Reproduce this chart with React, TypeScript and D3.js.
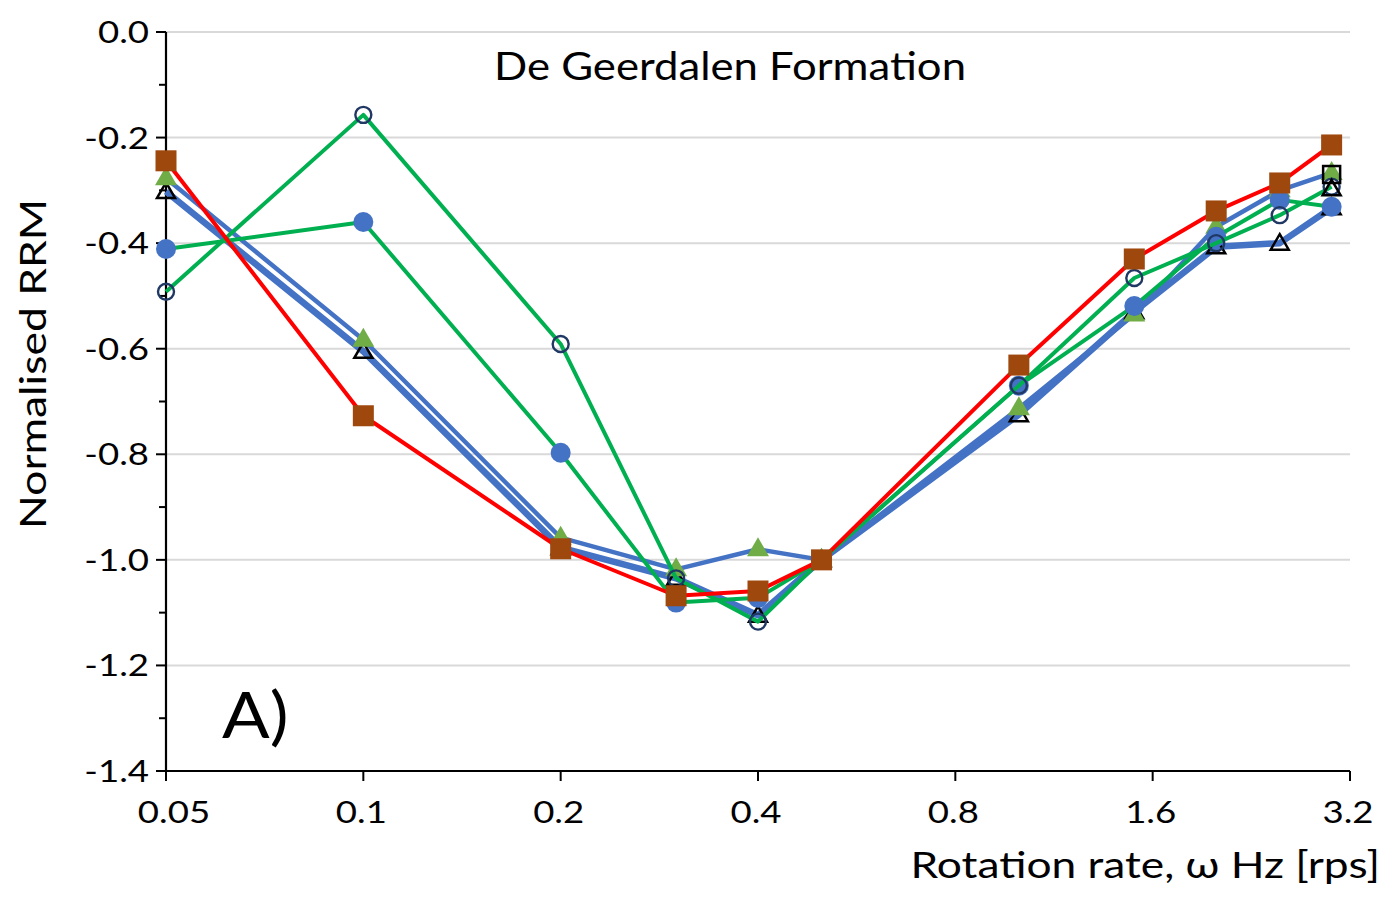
import React from "react";
import * as d3 from "d3";

const W = 1387;
const H = 900;

const rates = [0.05, 0.1, 0.2, 0.3, 0.4, 0.5, 1.0, 1.5, 2.0, 2.5, 3.0];
const xTickValues = [0.05, 0.1, 0.2, 0.4, 0.8, 1.6, 3.2];
const xTickLabels = ["0.05", "0.1", "0.2", "0.4", "0.8", "1.6", "3.2"];
const yTickValues = [0.0, -0.2, -0.4, -0.6, -0.8, -1.0, -1.2, -1.4];
const yMinorValues = [-0.1, -0.3, -0.5, -0.7, -0.9, -1.1, -1.3];

const openTriangleValues = [-0.302, -0.605, -0.977, -1.035, -1.105, -1.0, -0.725, -0.53, -0.407, -0.40, -0.333];
const greenTriangleValues = [-0.277, -0.583, -0.958, -1.018, -0.98, -1.0, -0.713, -0.535, -0.369, -0.30, -0.267];
const filledCircleValues = [-0.411, -0.36, -0.797, -1.081, -1.072, -1.0, -0.67, -0.519, -0.388, -0.318, -0.331];
const openCircleValues = [-0.492, -0.157, -0.591, -1.035, -1.117, -1.0, -0.67, -0.466, -0.40, -0.347, -0.293];
const squareValues = [-0.244, -0.727, -0.979, -1.068, -1.059, -1.0, -0.631, -0.43, -0.339, -0.286, -0.214];

const extraRates = [3.0, 3.0];
const extraValues = [-0.27, -0.297];
const extraMarkers = ["openSquare", "openTriangle"];

type Series = {
  values: number[];
  line: string;
  width: number;
  marker: string;
};

const seriesList: Series[] = [
  { values: openTriangleValues, line: "#4472C4", width: 6.5, marker: "openTriangle" },
  { values: greenTriangleValues, line: "#4472C4", width: 4.5, marker: "greenTriangle" },
  { values: filledCircleValues, line: "#00B050", width: 4, marker: "filledCircle" },
  { values: openCircleValues, line: "#00B050", width: 4, marker: "openCircle" },
  { values: squareValues, line: "#FF0000", width: 4, marker: "brownSquare" },
];

const FONT = "Lato, 'Open Sans', sans-serif";

function Marker({ kind, cx, cy }: { kind: string; cx: number; cy: number }) {
  switch (kind) {
    case "filledCircle":
      return <circle cx={cx} cy={cy} r={10} fill="#4472C4" />;
    case "openCircle":
      return <circle cx={cx} cy={cy} r={8} fill="none" stroke="#203864" strokeWidth={2.4} />;
    case "brownSquare":
      return <rect x={cx - 10.5} y={cy - 10.5} width={21} height={21} fill="#9E480E" />;
    case "openSquare":
      return <rect x={cx - 8.5} y={cy - 8.5} width={17} height={17} fill="none" stroke="#000" strokeWidth={2.5} />;
    case "greenTriangle": {
      const p = `${cx},${cy - 12} ${cx + 11},${cy + 7} ${cx - 11},${cy + 7}`;
      return <polygon points={p} fill="#70AD47" />;
    }
    case "openTriangle": {
      const p = `${cx},${cy - 9} ${cx + 9},${cy + 6.5} ${cx - 9},${cy + 6.5}`;
      return <polygon points={p} fill="none" stroke="#000" strokeWidth={2.5} strokeLinejoin="miter" />;
    }
    default:
      return null;
  }
}

function SText({
  x,
  y,
  sx,
  size,
  anchor,
  rotate,
  children,
}: {
  x: number;
  y: number;
  sx: number;
  size: number;
  anchor: string;
  rotate?: number;
  children: React.ReactNode;
}) {
  const t = `translate(${x},${y})${rotate ? ` rotate(${rotate})` : ""} scale(${sx},1)`;
  return (
    <text transform={t} textAnchor={anchor} fontSize={size} fill="#000">
      {children}
    </text>
  );
}

export default function App() {
  const x = d3.scaleLog().base(2).domain([0.05, 3.2]).range([166, 1350]);
  const y = d3.scaleLinear().domain([-1.4, 0]).range([771, 32]);

  const line = d3
    .line<number>()
    .x((_, i) => x(rates[i]))
    .y((v) => y(v));

  return (
    <svg
      width={W}
      height={H}
      style={{ position: "absolute", left: 0, top: 0, background: "#fff" }}
      fontFamily={FONT}
    >
      <rect x={0} y={0} width={W} height={H} fill="#fff" />
      {yTickValues
        .filter((v) => v > -1.4)
        .map((v) => (
          <line key={"g" + v} x1={166} x2={1350} y1={y(v)} y2={y(v)} stroke="#D9D9D9" strokeWidth={2} />
        ))}
      <line x1={166} x2={166} y1={y(0)} y2={y(-1.4)} stroke="#000" strokeWidth={2.2} />
      {yTickValues.map((v) => (
        <g key={"yt" + v}>
          <line x1={156} x2={166} y1={y(v)} y2={y(v)} stroke="#000" strokeWidth={2} />
          <SText x={149} y={y(v) + 11} sx={1.22} size={30} anchor="end">
            {v.toFixed(1)}
          </SText>
        </g>
      ))}
      {yMinorValues.map((v) => (
        <line key={"ym" + v} x1={159} x2={166} y1={y(v)} y2={y(v)} stroke="#000" strokeWidth={2} />
      ))}
      <line x1={166} x2={1350} y1={y(-1.4)} y2={y(-1.4)} stroke="#000" strokeWidth={2.2} />
      {xTickValues.map((v, i) => (
        <g key={"xt" + v}>
          <line x1={x(v)} x2={x(v)} y1={771} y2={781} stroke="#000" strokeWidth={2} />
          <SText x={x(v) + (i === 0 ? 8 : -2)} y={823} sx={1.22} size={30} anchor="middle">
            {xTickLabels[i]}
          </SText>
        </g>
      ))}
      {seriesList.map((s, si) => (
        <g key={"s" + si}>
          <path d={line(s.values) || ""} fill="none" stroke={s.line} strokeWidth={s.width} strokeLinejoin="round" />
          {s.values.map((v, i) => (
            <Marker key={i} kind={s.marker} cx={x(rates[i])} cy={y(v)} />
          ))}
        </g>
      ))}
      {extraValues.map((v, i) => (
        <Marker key={"e" + i} kind={extraMarkers[i]} cx={x(extraRates[i])} cy={y(v)} />
      ))}
      <SText x={730} y={80} sx={1.15} size={38} anchor="middle">
        De Geerdalen Formation
      </SText>
      <SText x={222} y={738} sx={1.1} size={64} anchor="start">
        A)
      </SText>
      <SText x={1380} y={878} sx={1.23} size={36} anchor="end">
        Rotation rate, ω Hz [rps]
      </SText>
      <SText x={46} y={364} sx={1.2} size={37} anchor="middle" rotate={-90}>
        Normalised RRM
      </SText>
    </svg>
  );
}
